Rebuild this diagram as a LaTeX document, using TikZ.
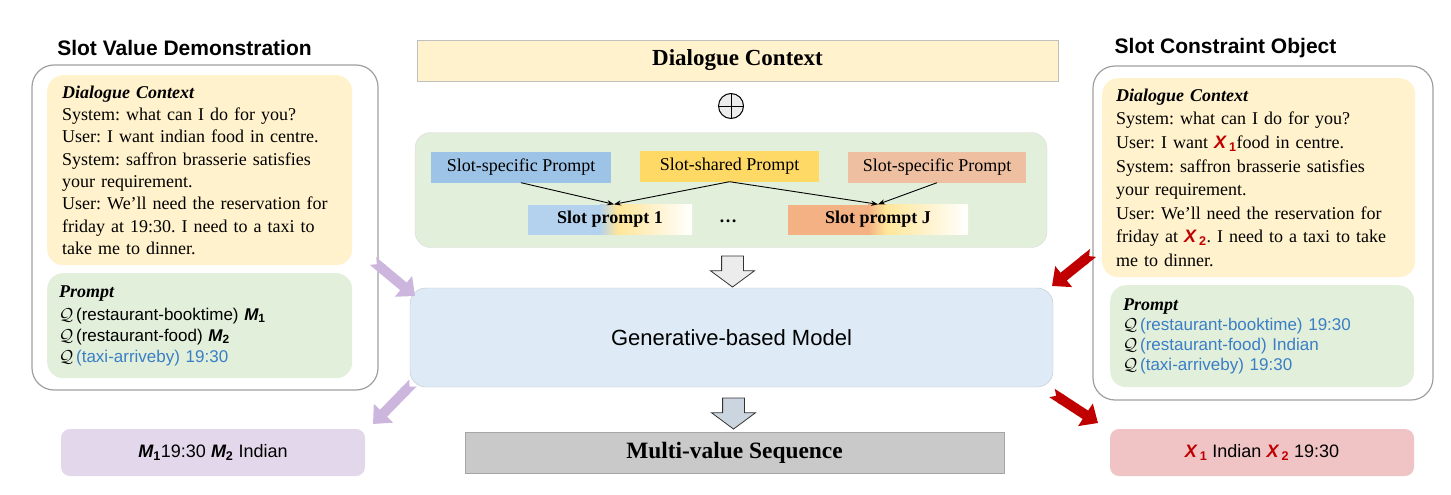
\documentclass[tikz,border=0pt]{standalone}
\usepackage{fontspec}
\setmainfont{Liberation Serif}
\setsansfont{Liberation Sans}
\usetikzlibrary{arrows.meta,shapes.arrows,calc}
\frenchspacing

\definecolor{ctxyel}{HTML}{FFF2CC}
\definecolor{prgreen}{HTML}{E2EFDA}
\definecolor{genblue}{HTML}{DEEBF7}
\definecolor{specblue}{HTML}{9DC3E6}
\definecolor{shareyel}{HTML}{FFD966}
\definecolor{fadeyel}{HTML}{FFE699}
\definecolor{specpeach}{HTML}{EEBFA0}
\definecolor{slotblue}{HTML}{B4D2EE}
\definecolor{slotorange}{HTML}{F4B183}
\definecolor{lilac}{HTML}{CDB6DD}
\definecolor{lilacbox}{HTML}{E3D7EB}
\definecolor{xred}{HTML}{C00000}
\definecolor{redbox}{HTML}{F0C4C4}
\definecolor{qblue}{HTML}{3A7EC6}

\newcommand\bodyfont{\fontsize{18}{22.3}\selectfont}
\newcommand\qsym{$\mathcal{Q}$}
\newcommand\mvar[1]{{\sffamily\bfseries\itshape M\textsubscript{\upshape #1}}}
\newcommand\xvar[1]{{\color{xred}\sffamily\bfseries\itshape X\,\textsubscript{\upshape #1}}}

\tikzset{
  panel/.style={draw=gray!75, line width=1.2pt, rounded corners=22pt},
  ctxbox/.style={fill=ctxyel, rounded corners=16pt, anchor=north west,
    align=left, inner xsep=15pt, inner ysep=0pt},
  promptbox/.style={fill=prgreen, rounded corners=16pt, anchor=north west,
    align=left, inner xsep=12pt, inner ysep=0pt},
  flatbox/.style={rectangle, inner sep=0pt},
  mixfill/.style={path picture={
    \fill[#1] (path picture bounding box.south west) rectangle ([xshift=-10pt]path picture bounding box.north);
    \shade[left color=#1, right color=fadeyel] ([xshift=-10.2pt]path picture bounding box.south) rectangle ([xshift=8pt]path picture bounding box.north);
    \shade[left color=fadeyel, right color=white] ([xshift=7.8pt]path picture bounding box.south) rectangle (path picture bounding box.north east);
  }},
  downarrow/.style={single arrow, draw=black!80, line width=0.8pt,
    shape border rotate=270, minimum height=31pt,
    single arrow head extend=11pt, single arrow tip angle=107,
    single arrow head indent=0pt, inner sep=10.5pt},
  bigarrow/.style={draw=#1, line width=10pt,
    {Triangle Cap[reversed]}-{Triangle[length=15pt,width=26pt]}},
  resultbox/.style={rounded corners=9pt, minimum width=304pt, minimum height=47pt,
    font=\sffamily\fontsize{18}{22}\selectfont},
  title/.style={font=\sffamily\bfseries\fontsize{21}{25}\selectfont}
}

\begin{document}
\begin{tikzpicture}[x=1pt,y=-1pt,font=\bodyfont]
  \useasboundingbox (0,0) rectangle (1451,495);

  % left column
  \node[title] (ltitle) at (184.5,48) {Slot Value Demonstration};
  \draw[panel] (32,65) rectangle (378,390);
  \node[ctxbox, text width=275pt, minimum height=190pt] (lctx) at (47,75) {%
    \textbf{\textit{Dialogue Context}}\\
    System: what can I do for you?\\
    User: I want indian food in centre.\\
    System: saffron brasserie satisfies\\
    your requirement.\\
    User: We'll need the reservation for\\
    friday at 19:30. I need to a taxi to\\
    take me to dinner.};
  \node[promptbox, text width=281pt, minimum height=105pt,
    font=\sffamily\fontsize{17}{21}\selectfont] (lprm) at (47,273) {%
    {\rmfamily\fontsize{18}{21}\selectfont\textbf{\textit{Prompt}}}\\[2pt]
    \qsym\,(restaurant-booktime) \mvar{1}\\
    \qsym\,(restaurant-food) \mvar{2}\\
    \qsym\,{\color{qblue}(taxi-arriveby) 19:30}};

  % right column
  \node[title] (rtitle) at (1225.5,48) {Slot Constraint Object};
  \draw[panel] (1093,66) rectangle (1433,400);
  \node[ctxbox, inner xsep=14pt, text width=285pt, minimum height=199pt,
    font=\fontsize{18}{23.6}\selectfont] (rctx) at (1102,78) {%
    \textbf{\textit{Dialogue Context}}\\
    System: what can I do for you?\\
    User: I want \xvar{1}food in centre.\\
    System: saffron brasserie satisfies\\
    your requirement.\\
    User: We'll need the reservation for\\
    friday at \xvar{2}. I need to a taxi to take\\
    me to dinner.};
  \node[promptbox, inner xsep=13pt, text width=278pt, minimum height=102pt,
    font=\sffamily\fontsize{17}{20}\selectfont] (rprm) at (1110,285) {%
    {\rmfamily\fontsize{18}{20}\selectfont\textbf{\textit{Prompt}}}\\
    \qsym\,{\color{qblue}(restaurant-booktime) 19:30}\\
    \qsym\,{\color{qblue}(restaurant-food) Indian}\\
    \qsym\,{\color{qblue}(taxi-arriveby) 19:30}};

  % middle column
  \node[flatbox, draw=gray!50, fill=ctxyel, minimum width=641pt, minimum height=41pt,
    font=\bfseries\fontsize{23}{27}\selectfont] (dctx) at (737.5,60.5) {Dialogue Context};
  \node[circle, draw, line width=1pt, fill=gray!15, minimum size=25pt, inner sep=0pt] (plus) at (731,106) {};
  \draw[line width=1pt] (plus.north) -- (plus.south) (plus.west) -- (plus.east);

  \node[flatbox, draw=gray!30, fill=prgreen, rounded corners=16pt,
    minimum width=632pt, minimum height=115pt] (pool) at (731,190) {};
  \node[flatbox, fill=specblue, minimum width=180pt, minimum height=31pt] (lspec) at (521,167) {Slot-specific Prompt};
  \node[flatbox, fill=shareyel, minimum width=179pt, minimum height=31pt] (share) at (729.5,166) {Slot-shared Prompt};
  \node[flatbox, fill=specpeach, minimum width=178pt, minimum height=31pt] (rspec) at (937,167) {Slot-specific Prompt};
  \node[flatbox, mixfill=slotblue, minimum width=164pt, minimum height=30pt,
    font=\bfseries\bodyfont] (slot1) at (610,219.5) {Slot prompt 1};
  \node[font=\bfseries\bodyfont] (dots) at (728,221) {\ldots};
  \node[flatbox, mixfill=slotorange, minimum width=180pt, minimum height=30pt,
    font=\bfseries\bodyfont] (slotJ) at (878,219.5) {Slot prompt J};
  \draw[-{Stealth[length=7pt]}, line width=0.9pt] (lspec.south) -- ([xshift=4pt]slot1.north);
  \draw[-{Stealth[length=7pt]}, line width=0.9pt] (share.south) -- ([xshift=4pt]slot1.north);
  \draw[-{Stealth[length=7pt]}, line width=0.9pt] (share.south) -- (slotJ.north);
  \draw[-{Stealth[length=7pt]}, line width=0.9pt] (rspec.south) -- (slotJ.north);

  \node[downarrow, fill=gray!15] (down1) at (732.5,267.5) {};
  \node[flatbox, draw=gray!35!genblue, fill=genblue, rounded corners=16pt,
    minimum width=643pt, minimum height=99pt,
    font=\sffamily\fontsize{22}{26}\selectfont] (model) at (731.5,337.5) {Generative-based Model};
  \node[downarrow, fill=gray!20!genblue] (down2) at (733.5,409.5) {};
  \node[flatbox, draw=gray!70, fill=gray!42, minimum width=539pt, minimum height=41pt,
    font=\bfseries\fontsize{23.4}{27}\selectfont] (seq) at (734.5,452.5) {Multi-value Sequence};

  % results
  \node[resultbox, fill=lilacbox] (lres) at (213,452.5) {\mvar{1}19:30 \mvar{2} Indian};
  \node[resultbox, fill=redbox] (rres) at (1262,452.5) {\xvar{1} Indian \xvar{2} 19:30};

  % thick arrows
  \coordinate (lin) at (373,261);
  \coordinate (lintip) at (415,296);
  \coordinate (lout) at (413,383);
  \coordinate (louttip) at (373,424);
  \coordinate (rin) at (1093,253);
  \coordinate (rintip) at (1052,286);
  \coordinate (rout) at (1052,393);
  \coordinate (routtip) at (1098,423);
  \draw[bigarrow=lilac] (lin) -- (lintip);
  \draw[bigarrow=lilac] (lout) -- (louttip);
  \draw[bigarrow=xred] (rin) -- (rintip);
  \draw[bigarrow=xred] (rout) -- (routtip);
\end{tikzpicture}
\end{document}
